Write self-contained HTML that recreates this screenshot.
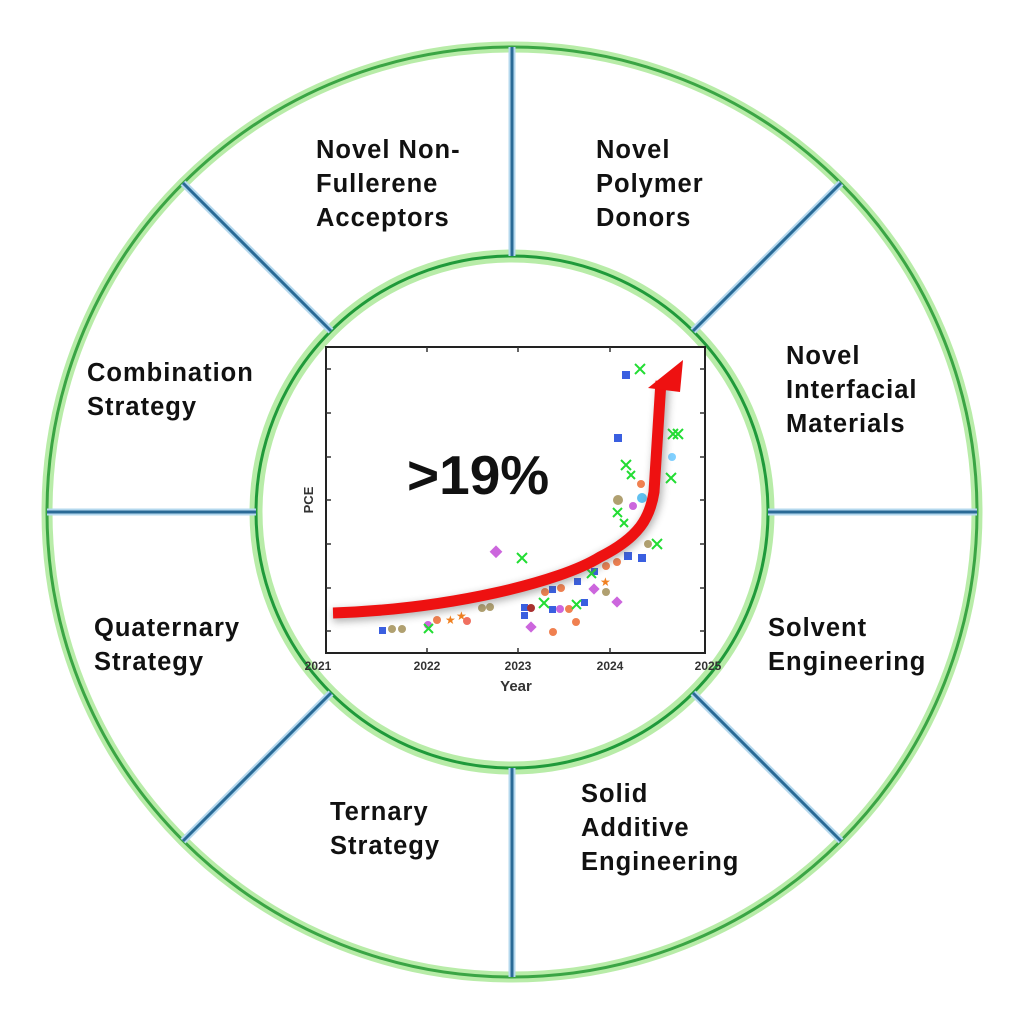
<!DOCTYPE html>
<html><head><meta charset="utf-8"><style>
html,body{margin:0;padding:0;background:#fff;}
svg{display:block}
text{font-family:"Liberation Sans",sans-serif;}
</style></head><body>
<svg width="1024" height="1024" viewBox="0 0 1024 1024" xmlns="http://www.w3.org/2000/svg">
<defs>
<filter id="sh" x="-20%" y="-20%" width="140%" height="140%"><feGaussianBlur stdDeviation="4"/></filter>
</defs>
<circle cx="512" cy="512" r="465" fill="none" stroke="#b8eca8" stroke-width="11"/>
<circle cx="512" cy="512" r="465" fill="none" stroke="#3aa544" stroke-width="3"/>
<circle cx="512" cy="512" r="256" fill="none" stroke="#b8eca8" stroke-width="13"/>
<circle cx="512" cy="512" r="256" fill="none" stroke="#1f9a3a" stroke-width="3"/>
<g stroke="#b4d8ee" stroke-width="7">
<line x1="512" y1="47" x2="512" y2="256"/><line x1="512" y1="768" x2="512" y2="977"/>
<line x1="47" y1="512" x2="256" y2="512"/><line x1="768" y1="512" x2="977" y2="512"/>
<line x1="183" y1="183" x2="331" y2="331"/><line x1="841" y1="183" x2="693" y2="331"/>
<line x1="183" y1="841" x2="331" y2="693"/><line x1="841" y1="841" x2="693" y2="693"/>
</g>
<g stroke="#2a6a96" stroke-width="3">
<line x1="512" y1="47" x2="512" y2="256"/><line x1="512" y1="768" x2="512" y2="977"/>
<line x1="47" y1="512" x2="256" y2="512"/><line x1="768" y1="512" x2="977" y2="512"/>
<line x1="183" y1="183" x2="331" y2="331"/><line x1="841" y1="183" x2="693" y2="331"/>
<line x1="183" y1="841" x2="331" y2="693"/><line x1="841" y1="841" x2="693" y2="693"/>
</g>
<g font-size="25.5" font-weight="bold" fill="#111" letter-spacing="1">
<text x="316" y="158">Novel Non-</text><text x="316" y="192">Fullerene</text><text x="316" y="226">Acceptors</text>
<text x="596" y="158">Novel</text><text x="596" y="192">Polymer</text><text x="596" y="226">Donors</text>
<text x="87" y="381">Combination</text><text x="87" y="415">Strategy</text>
<text x="786" y="364">Novel</text><text x="786" y="398">Interfacial</text><text x="786" y="432">Materials</text>
<text x="94" y="636">Quaternary</text><text x="94" y="670">Strategy</text>
<text x="768" y="636">Solvent</text><text x="768" y="670">Engineering</text>
<text x="330" y="820">Ternary</text><text x="330" y="854">Strategy</text>
<text x="581" y="802">Solid</text><text x="581" y="836">Additive</text><text x="581" y="870">Engineering</text>
</g>
<rect x="326" y="347" width="379" height="306" fill="#fff" stroke="#222" stroke-width="2"/>
<g stroke="#333" stroke-width="1.5">
<line x1="326" y1="369" x2="331" y2="369"/><line x1="326" y1="413" x2="331" y2="413"/><line x1="326" y1="457" x2="331" y2="457"/><line x1="326" y1="500" x2="331" y2="500"/><line x1="326" y1="544" x2="331" y2="544"/><line x1="326" y1="588" x2="331" y2="588"/><line x1="326" y1="631" x2="331" y2="631"/>
<line x1="700" y1="369" x2="705" y2="369"/><line x1="700" y1="413" x2="705" y2="413"/><line x1="700" y1="457" x2="705" y2="457"/><line x1="700" y1="500" x2="705" y2="500"/><line x1="700" y1="544" x2="705" y2="544"/><line x1="700" y1="588" x2="705" y2="588"/><line x1="700" y1="631" x2="705" y2="631"/>
<line x1="427" y1="653" x2="427" y2="648"/><line x1="518" y1="653" x2="518" y2="648"/><line x1="610" y1="653" x2="610" y2="648"/>
<line x1="427" y1="347" x2="427" y2="352"/><line x1="518" y1="347" x2="518" y2="352"/><line x1="610" y1="347" x2="610" y2="352"/>
</g>
<g font-size="12" font-weight="bold" fill="#333" text-anchor="middle">
<text x="318" y="670">2021</text><text x="427" y="670">2022</text><text x="518" y="670">2023</text><text x="610" y="670">2024</text><text x="708" y="670">2025</text>
<text x="516" y="691" font-size="15">Year</text>
<text x="0" y="0" font-size="13" transform="translate(313,500) rotate(-90)">PCE</text>
</g>
<g>
<rect x="379" y="627" width="7" height="7" fill="#3a5fe0"/>
<circle cx="392" cy="629" r="4" fill="#b0a070"/><circle cx="402" cy="629" r="4" fill="#b0a070"/>
<circle cx="428" cy="625" r="4" fill="#cc66dd"/><circle cx="437" cy="620" r="4" fill="#f08050"/>
<text x="445" y="624" font-size="12" fill="#f08020">★</text><text x="456" y="620" font-size="12" fill="#f08020">★</text>
<circle cx="467" cy="621" r="4" fill="#f07060"/><circle cx="482" cy="608" r="4" fill="#b0a070"/><circle cx="490" cy="607" r="4" fill="#b0a070"/>
<rect x="492" y="547" width="9" height="9" fill="#cc66dd" transform="rotate(45 496 551)"/>
<rect x="521" y="604" width="7" height="7" fill="#3a5fe0"/><rect x="521" y="612" width="7" height="7" fill="#3a5fe0"/>
<circle cx="531" cy="608" r="4" fill="#aa3030"/><circle cx="545" cy="592" r="4" fill="#f08050"/>
<rect x="527" y="623" width="8" height="8" fill="#cc66dd" transform="rotate(45 531 627)"/>
<circle cx="553" cy="632" r="4" fill="#f08050"/><circle cx="576" cy="622" r="4" fill="#f08050"/>
<rect x="549" y="586" width="7" height="7" fill="#3a5fe0"/><circle cx="561" cy="588" r="4" fill="#f08050"/>
<rect x="549" y="606" width="7" height="7" fill="#3a5fe0"/><circle cx="560" cy="609" r="4" fill="#cc66dd"/><circle cx="569" cy="609" r="4" fill="#f08050"/>
<rect x="574" y="578" width="7" height="7" fill="#3a5fe0"/><rect x="581" y="599" width="7" height="7" fill="#3a5fe0"/>
<rect x="590" y="585" width="8" height="8" fill="#cc66dd" transform="rotate(45 594 589)"/>
<circle cx="606" cy="592" r="4" fill="#b0a070"/><text x="600" y="586" font-size="12" fill="#f08020">★</text>
<rect x="591" y="568" width="7" height="7" fill="#3a5fe0"/><circle cx="606" cy="566" r="4" fill="#f08050"/><circle cx="617" cy="562" r="4" fill="#f08050"/>
<rect x="613" y="598" width="8" height="8" fill="#cc66dd" transform="rotate(45 617 602)"/>
<rect x="624" y="552" width="8" height="8" fill="#3a5fe0"/><rect x="638" y="554" width="8" height="8" fill="#3a5fe0"/>
<circle cx="648" cy="544" r="4" fill="#b0a070"/>
<circle cx="618" cy="500" r="5" fill="#b0a070"/><circle cx="633" cy="506" r="4" fill="#cc66dd"/>
<circle cx="641" cy="484" r="4" fill="#f08050"/><circle cx="642" cy="498" r="5" fill="#60c0f0"/>
<rect x="614" y="434" width="8" height="8" fill="#3a5fe0"/>
<rect x="622" y="371" width="8" height="8" fill="#3a5fe0"/>
<circle cx="672" cy="457" r="4" fill="#80d0ff"/>
<g stroke="#22dd33" stroke-width="2" fill="none">
<path d="M635 364l10 10M645 364l-10 10"/><path d="M668 429l10 10M678 429l-10 10"/><path d="M673 429l10 10M683 429l-10 10"/>
<path d="M666 473l10 10M676 473l-10 10"/><path d="M621 460l10 10M631 460l-10 10"/><path d="M627 471l8 8M635 471l-8 8"/>
<path d="M613 508l9 9M622 508l-9 9"/><path d="M620 519l8 8M628 519l-8 8"/><path d="M652 539l10 10M662 539l-10 10"/>
<path d="M517 553l10 10M527 553l-10 10"/><path d="M539 598l10 10M549 598l-10 10"/><path d="M572 600l9 9M581 600l-9 9"/>
<path d="M587 569l9 9M596 569l-9 9"/><path d="M424 624l9 9M433 624l-9 9"/>
</g>
</g>
<g filter="url(#sh)" opacity="0.45">
<path d="M333 616 C450 612, 560 585, 600 560 C640 540, 652 520, 656 495 L664 384" fill="none" stroke="#555" stroke-width="12"/>
</g>
<path d="M333 613 C450 609, 560 582, 600 557 C640 537, 650 517, 654 492 L661 381" fill="none" stroke="#ee1111" stroke-width="11"/>
<polygon points="648,388 683,360 680,392" fill="#ee1111"/>
<text x="407" y="494" font-size="55" font-weight="bold" fill="#111">&gt;19%</text>
</svg>
</body></html>
